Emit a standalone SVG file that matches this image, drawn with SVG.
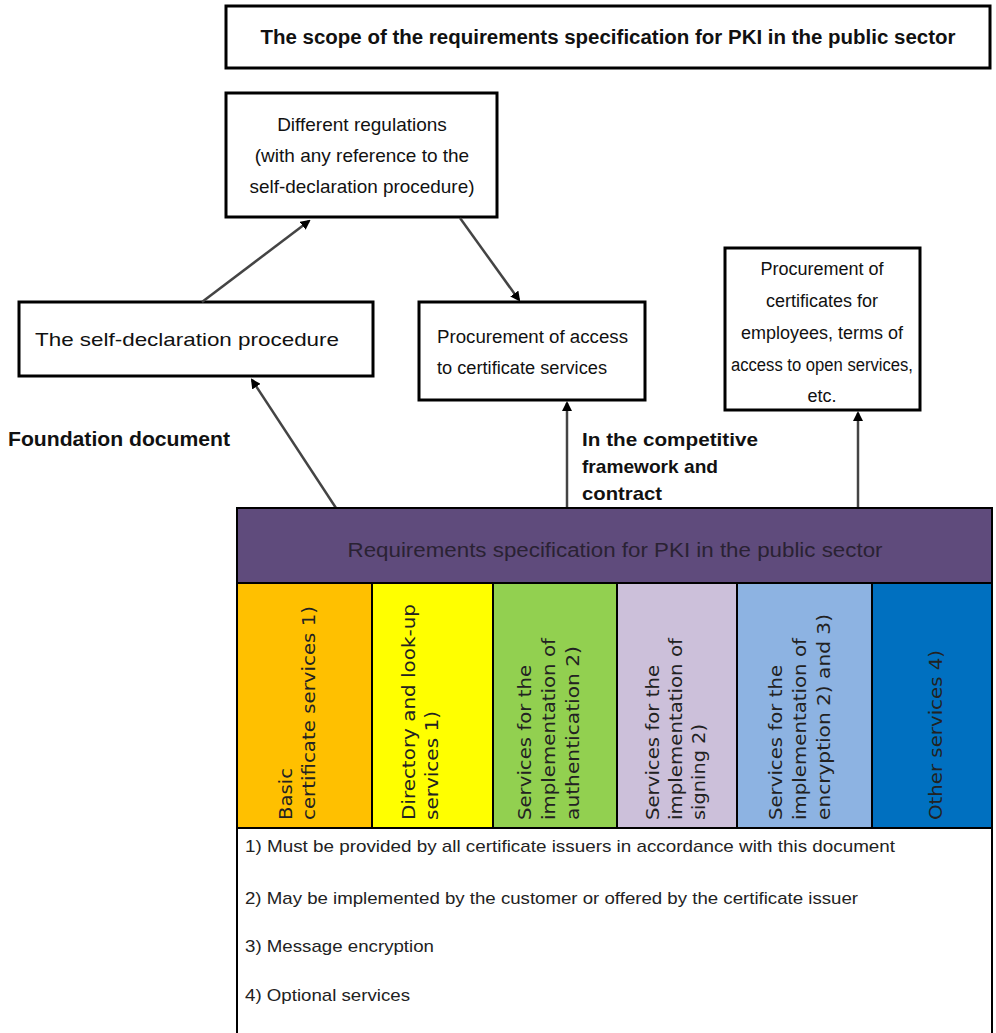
<svg xmlns="http://www.w3.org/2000/svg" width="996" height="1033" viewBox="0 0 996 1033">
<defs>
<marker id="ah" markerWidth="10" markerHeight="10" refX="8" refY="5" orient="auto" markerUnits="userSpaceOnUse">
<path d="M0,0 L10,5 L0,10 z" fill="#000"/>
</marker>
<style>
.box{fill:#fff;stroke:#000;stroke-width:3}
.t{font-family:"Liberation Sans",Arial,sans-serif;font-size:18px;fill:#111}
.b{font-weight:bold}
.c{text-anchor:middle}
.col{font-family:"DejaVu Sans",Verdana,sans-serif;font-size:18px;fill:#222}
.note{font-family:"Liberation Sans",Arial,sans-serif;font-size:17px;fill:#222}
.conn{stroke:#444;stroke-width:2.5;fill:none;marker-end:url(#ah)}
.cb{stroke:#000;stroke-width:2}
</style>
</defs>
<rect width="996" height="1033" fill="#fff"/>

<g id="title">
<rect class="box" x="226" y="6" width="764" height="62"/>
<text class="t b c" x="608" y="44" style="font-size:20px" textLength="695" lengthAdjust="spacingAndGlyphs">The scope of the requirements specification for PKI in the public sector</text>
</g>

<g id="regulations">
<rect class="box" x="226" y="93" width="271" height="124"/>
<text class="t c" x="362" y="131" style="font-size:19px">Different regulations</text>
<text class="t c" x="362" y="162" style="font-size:19px">(with any reference to the</text>
<text class="t c" x="362" y="193" style="font-size:19px" textLength="225" lengthAdjust="spacingAndGlyphs">self-declaration procedure)</text>
</g>

<g id="selfdecl">
<rect class="box" x="19" y="302" width="354" height="74"/>
<text class="t" x="35" y="346" style="font-size:19px" textLength="304" lengthAdjust="spacingAndGlyphs">The self-declaration procedure</text>
</g>

<g id="procaccess">
<rect class="box" x="419" y="302" width="226" height="98"/>
<text class="t" x="437" y="343" textLength="191" lengthAdjust="spacingAndGlyphs">Procurement of access</text>
<text class="t" x="437" y="374" textLength="170" lengthAdjust="spacingAndGlyphs">to certificate services</text>
</g>

<g id="proccert">
<rect class="box" x="725" y="248" width="195" height="162"/>
<text class="t c" x="822" y="275">Procurement of</text>
<text class="t c" x="822" y="307">certificates for</text>
<text class="t c" x="822" y="339">employees, terms of</text>
<text class="t c" x="822" y="371" textLength="182" lengthAdjust="spacingAndGlyphs">access to open services,</text>
<text class="t c" x="822" y="402">etc.</text>
</g>

<g id="connectors">
<line class="conn" x1="202" y1="302" x2="309" y2="221"/>
<line class="conn" x1="460" y1="218" x2="519" y2="300"/>
<line class="conn" x1="336" y1="508" x2="252" y2="380"/>
<line class="conn" x1="567" y1="508" x2="567" y2="403"/>
<line class="conn" x1="858" y1="508" x2="858" y2="413"/>
</g>

<g id="labels">
<text class="t b" x="8" y="446" style="font-size:20px" textLength="222" lengthAdjust="spacingAndGlyphs">Foundation document</text>
<text class="t b" x="582" y="446" style="font-size:19px" textLength="176" lengthAdjust="spacingAndGlyphs">In the competitive</text>
<text class="t b" x="582" y="473" style="font-size:19px" textLength="136" lengthAdjust="spacingAndGlyphs">framework and</text>
<text class="t b" x="582" y="500" style="font-size:19px" textLength="80" lengthAdjust="spacingAndGlyphs">contract</text>
</g>

<g id="spec">
<rect x="237" y="508" width="755" height="75" fill="#5f4b7c" stroke="#000" stroke-width="2"/>
<text class="t c" x="615" y="557" style="fill:#2a2233;font-size:20px" textLength="535" lengthAdjust="spacingAndGlyphs">Requirements specification for PKI in the public sector</text>
</g>

<g id="col1">
<rect x="237" y="583" width="135" height="245" fill="#ffc000" class="cb"/>
<text class="col" transform="translate(292,820) rotate(-90)" textLength="52" lengthAdjust="spacingAndGlyphs">Basic</text>
<text class="col" transform="translate(315,820) rotate(-90)" textLength="214" lengthAdjust="spacingAndGlyphs">certificate services 1)</text>
</g>
<g id="col2">
<rect x="372" y="583" width="121" height="245" fill="#ffff00" class="cb"/>
<text class="col" transform="translate(415,820) rotate(-90)" textLength="216" lengthAdjust="spacingAndGlyphs">Directory and look-up</text>
<text class="col" transform="translate(438,820) rotate(-90)" textLength="109" lengthAdjust="spacingAndGlyphs">services 1)</text>
</g>
<g id="col3">
<rect x="493" y="583" width="124" height="245" fill="#92d050" class="cb"/>
<text class="col" transform="translate(531,820) rotate(-90)" textLength="155" lengthAdjust="spacingAndGlyphs">Services for the</text>
<text class="col" transform="translate(555,820) rotate(-90)" textLength="182" lengthAdjust="spacingAndGlyphs">implementation of</text>
<text class="col" transform="translate(579,820) rotate(-90)" textLength="174" lengthAdjust="spacingAndGlyphs">authentication 2)</text>
</g>
<g id="col4">
<rect x="617" y="583" width="120" height="245" fill="#ccc0da" class="cb"/>
<text class="col" transform="translate(659,820) rotate(-90)" textLength="155" lengthAdjust="spacingAndGlyphs">Services for the</text>
<text class="col" transform="translate(682,820) rotate(-90)" textLength="182" lengthAdjust="spacingAndGlyphs">implementation of</text>
<text class="col" transform="translate(705,820) rotate(-90)" textLength="96" lengthAdjust="spacingAndGlyphs">signing 2)</text>
</g>
<g id="col5">
<rect x="737" y="583" width="135" height="245" fill="#8db3e2" class="cb"/>
<text class="col" transform="translate(782,820) rotate(-90)" textLength="155" lengthAdjust="spacingAndGlyphs">Services for the</text>
<text class="col" transform="translate(806,820) rotate(-90)" textLength="182" lengthAdjust="spacingAndGlyphs">implementation of</text>
<text class="col" transform="translate(830,820) rotate(-90)" textLength="206" lengthAdjust="spacingAndGlyphs">encryption 2) and 3)</text>
</g>
<g id="col6">
<rect x="872" y="583" width="120" height="245" fill="#0070c0" class="cb"/>
<text class="col" transform="translate(942,820) rotate(-90)" textLength="170" lengthAdjust="spacingAndGlyphs">Other services 4)</text>
</g>

<g id="notes">
<rect x="237" y="828" width="755" height="210" fill="#fff" stroke="#000" stroke-width="2"/>
<text class="note" x="245" y="852" textLength="650" lengthAdjust="spacingAndGlyphs">1) Must be provided  by all certificate issuers in accordance with this document</text>
<text class="note" x="245" y="904" textLength="613" lengthAdjust="spacingAndGlyphs">2) May be implemented by the customer or offered by the certificate issuer</text>
<text class="note" x="245" y="952" textLength="189" lengthAdjust="spacingAndGlyphs">3) Message encryption</text>
<text class="note" x="245" y="1001" textLength="165" lengthAdjust="spacingAndGlyphs">4) Optional services</text>
</g>
</svg>
